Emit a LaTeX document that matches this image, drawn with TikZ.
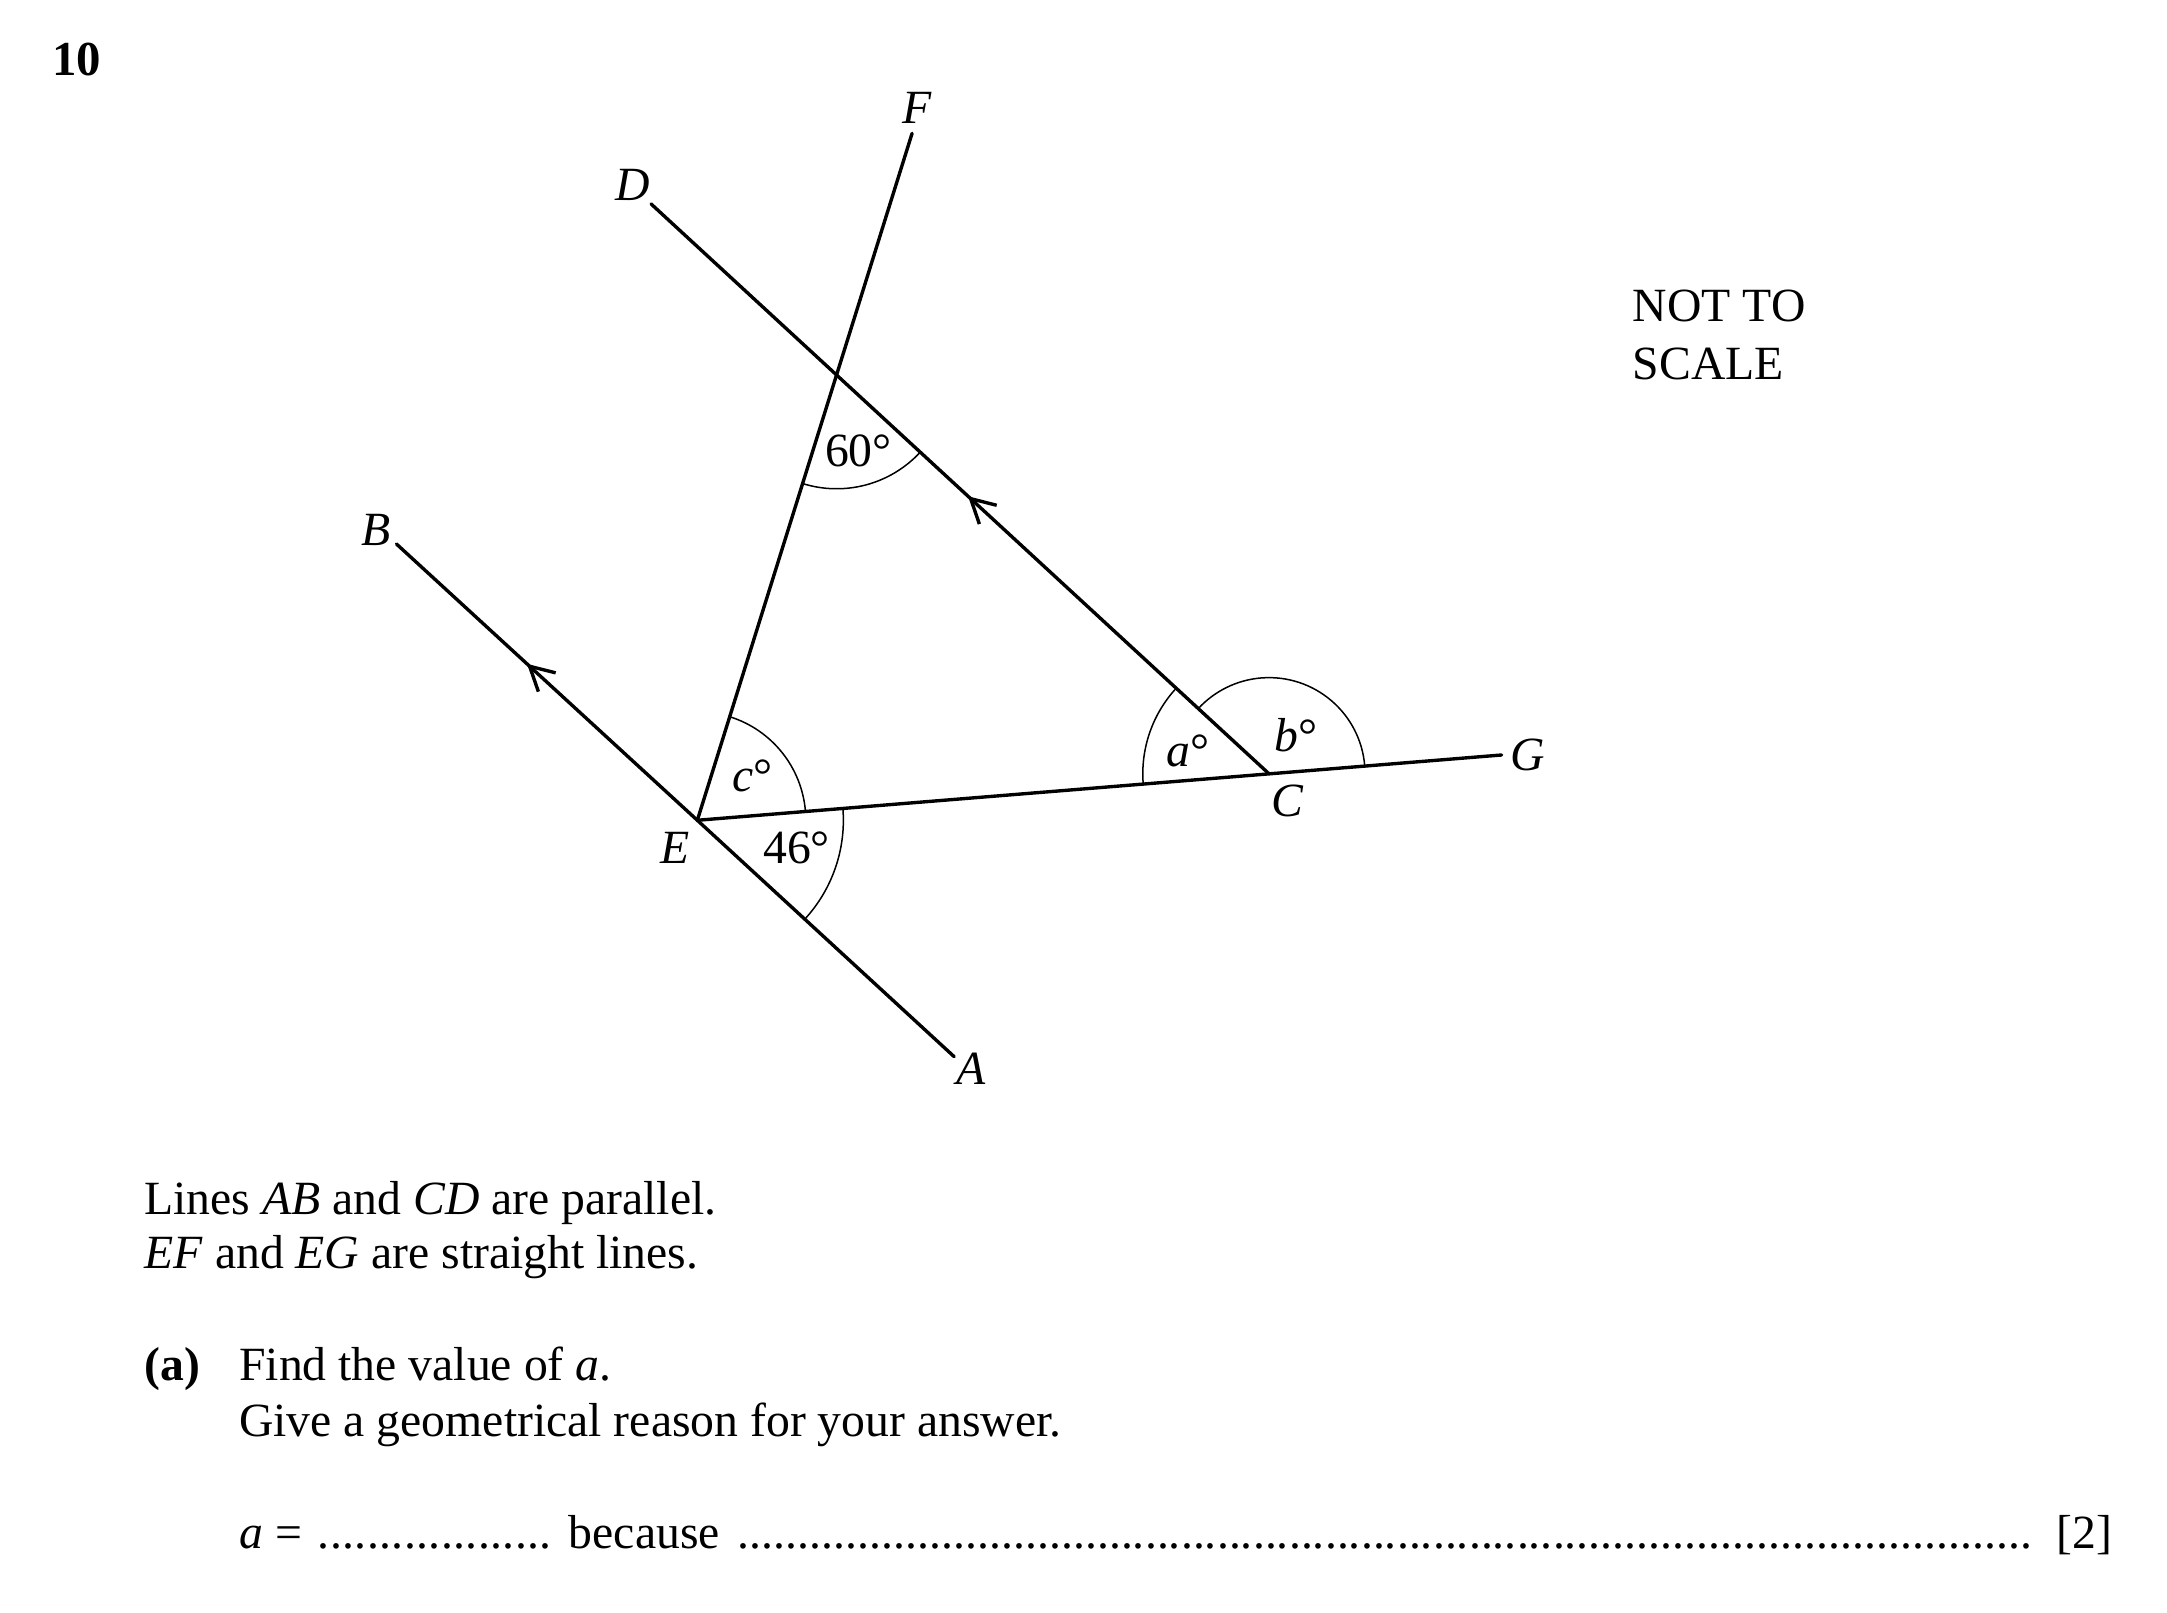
\documentclass[tikz,border=0pt]{standalone}
\usepackage{fontspec}
\setmainfont{Liberation Serif}
\usetikzlibrary{arrows.meta,decorations.markings,angles}
\begin{document}
\begin{tikzpicture}[x=0.37pt,y=0.37pt,
  txt/.style={inner sep=0pt, anchor=base west, font=\fontsize{12.7}{15}\selectfont},
  lbl/.style={inner sep=0pt, anchor=base, font=\fontsize{12.7}{15}\selectfont\itshape},
  anglbl/.style={inner sep=0pt, anchor=base, font=\fontsize{12.7}{15}\selectfont},
  geo/.style={line width=0.9pt, line cap=round},
  arcmark/.style={draw, line width=0.4pt},
  parmark/.style={postaction={decorate}, decoration={markings, mark=at position #1 with {\arrow{Straight Barb[length=6.3pt,width=6.8pt]}}}}
]
\useasboundingbox (0,0) rectangle (1560,-1161);

% points
\coordinate (E) at (502,-590.5);
\coordinate (C) at (913.5,-557);
\coordinate (Fe) at (656.6,-96);
\coordinate (De) at (468.7,-146.8);
\coordinate (Be) at (285.4,-391.6);
\coordinate (Ae) at (686.9,-760.7);
\coordinate (Ge) at (1081,-543.5);
\coordinate (P) at (intersection of E--Fe and C--De);

% lines
\draw[geo, parmark=0.568] (E) -- (Be);
\draw[geo] (E) -- (Ae);
\draw[geo] (E) -- (Fe);
\draw[geo] (E) -- (Ge);
\draw[geo, parmark=0.487] (C) -- (De);

% angle arcs
\pic[arcmark, angle radius=30.3pt] {angle = E--P--C};
\pic[arcmark, angle radius=28.9pt] {angle = Ge--E--Fe};
\pic[arcmark, angle radius=38.9pt] {angle = Ae--E--Ge};
\pic[arcmark, angle radius=33.6pt] {angle = De--C--E};
\pic[arcmark, angle radius=25.6pt] {angle = Ge--C--De};

% point labels
\node[lbl] (lF) at (660,-89) {F};
\node[lbl] (lD) at (455.5,-144) {D};
\node[lbl] (lB) at (271,-393) {B};
\node[lbl] (lE) at (486,-621.5) {E};
\node[lbl] (lA) at (699,-781) {A};
\node[lbl] (lC) at (927,-587.5) {C};
\node[lbl] (lG) at (1100,-555) {G};

% angle labels
\node[anglbl] (l60) at (618,-335.5) {60°};
\node[anglbl] (lc) at (541.6,-570) {\textit{c}°};
\node[anglbl] (l46) at (573.5,-621.5) {46°};
\node[anglbl] (la) at (855,-552) {\textit{a}°};
\node[anglbl] (lb) at (933,-541) {\textit{b}°};

% header and notes
\node[txt, font=\fontsize{13}{15}\selectfont\bfseries] (num) at (37,-54) {10};
\node[txt] (nts1) at (1175,-231.5) {NOT TO};
\node[txt] (nts2) at (1175,-273) {SCALE};

% question text
\node[txt] (t1) at (103.5,-874.5) {Lines \textit{AB} and \textit{CD} are parallel.};
\node[txt] (t2) at (103.5,-913.5) {\textit{EF} and \textit{EG} are straight lines.};
\node[txt, font=\fontsize{12.7}{15}\selectfont\bfseries] (qa) at (103.5,-994) {(a)};
\node[txt] (t3) at (171.7,-994) {Find the value of \textit{a}.};
\node[txt] (t4) at (171.7,-1034) {Give a geometrical reason for your answer.};
\node[txt] (t5) at (171.7,-1115) {\textit{a} =};
\node[txt] (d1) at (228,-1115) {\makebox[62.5pt][l]{\xleaders\hbox{.}\hfill}};
\node[txt] (t6) at (409,-1115) {because};
\node[txt] (d2) at (530,-1115) {\makebox[345.2pt][l]{\xleaders\hbox{.}\hfill}};
\node[txt, anchor=base east] (mk) at (1521,-1115) {[2]};
\end{tikzpicture}
\end{document}
